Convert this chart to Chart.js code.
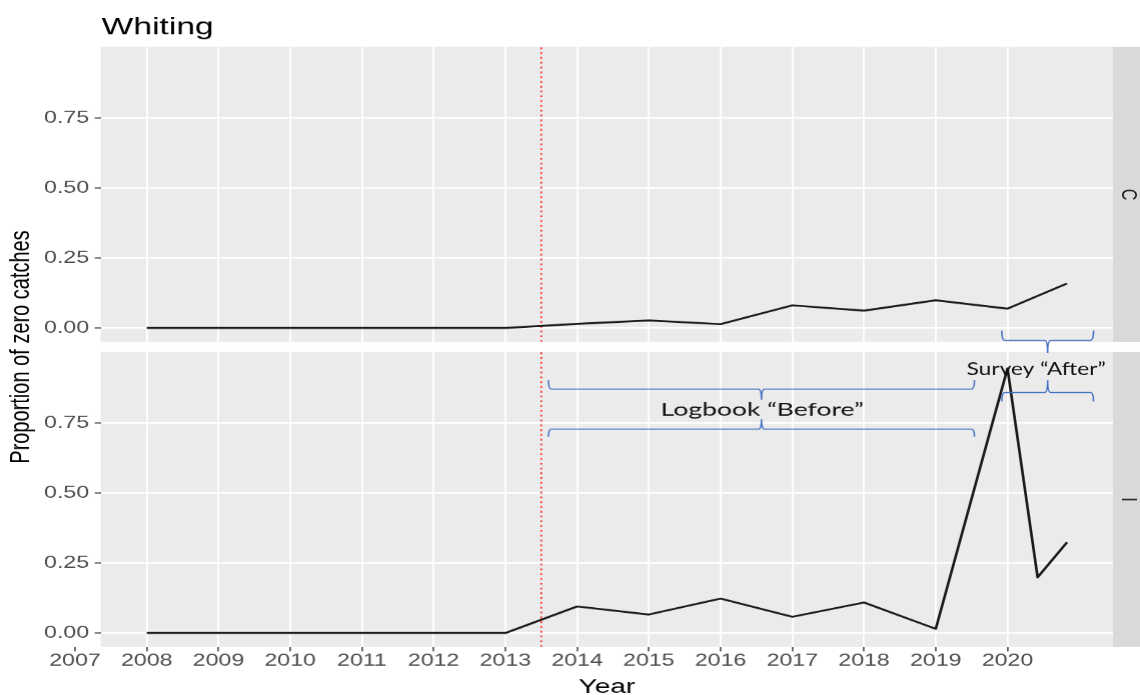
<!DOCTYPE html>
<html>
<head>
<meta charset="utf-8">
<script src="https://cdn.jsdelivr.net/npm/chart.js@4/dist/chart.umd.min.js"></script>
<style>
html,body{margin:0;padding:0;background:#ffffff;overflow:hidden;}
canvas{display:block;}
</style>
</head>
<body>
<canvas id="c" width="814" height="695" style="width:1140px;height:695px"></canvas>
<script>
// ---------------- data ----------------
const years   = [2008, 2009, 2010, 2011, 2012, 2013, 2014, 2015, 2016, 2017, 2018, 2019, 2020, 2020.42, 2020.83];
const seriesC = [0, 0, 0, 0, 0, 0, 0.015, 0.027, 0.014, 0.081, 0.062, 0.099, 0.069, null, 0.159];
const seriesI = [0, 0, 0, 0, 0, 0, 0.095, 0.066, 0.123, 0.058, 0.109, 0.015, 0.945, 0.199, 0.324];
const xTickValues = [2007, 2008, 2009, 2010, 2011, 2012, 2013, 2014, 2015, 2016, 2017, 2018, 2019, 2020];
const xTickLabels = ['2007', '2008', '2009', '2010', '2011', '2012', '2013', '2014', '2015', '2016', '2017', '2018', '2019', '2020'];
const yTickValues = [0, 0.25, 0.5, 0.75];
const yTickLabels = ['0.00', '0.25', '0.50', '0.75'];
const yMinorValues = [0.125, 0.375, 0.625, 0.875];
const panelLabels = ['C', 'I'];
const changeYear = 2013.5;
const logbookSpan = [2013.60, 2019.54];
const surveySpan = [2019.92, 2021.20];
const chartTitle = 'Whiting';
const xTitle = 'Year';
const yTitle = 'Proportion of zero catches';
const logbookText = 'Logbook \u201cBefore\u201d';
const surveyText = 'Survey \u201cAfter\u201d';

// ---------------- layout / style ----------------
const SANS = '"Liberation Sans", Arial, sans-serif';
const yLimits = [-0.05, 1.0036];
const xSpan = years[years.length - 1] - years[0];
const xLimits = [years[0] - 0.05 * xSpan, years[years.length - 1] + 0.05 * xSpan];
const yGridValues = [...yTickValues, ...yMinorValues].sort((a, b) => a - b);
const isMajor = v => yTickValues.some(t => Math.abs(t - v) < 1e-9);

function yAxis(weight) {
  return {
    type: 'linear', position: 'left', stack: 'panels', stackWeight: weight,
    min: yLimits[0], max: yLimits[1],
    afterBuildTicks: s => { s.ticks = yGridValues.map(v => ({value: v})); },
    afterFit: s => { s.width = 71.9; },
    border: {display: false},
    grid: {
      color: '#ffffff',
      lineWidth: c => (c.tick && isMajor(c.tick.value)) ? 1.6 : 0.8,
      tickColor: c => (c.tick && isMajor(c.tick.value)) ? '#333333' : 'rgba(0,0,0,0)',
      tickLength: 4.3, tickWidth: 1
    },
    ticks: {
      padding: 4,
      color: '#4D4D4D',
      font: {family: SANS, size: 16.5},
      callback: v => { const k = yTickValues.findIndex(t => Math.abs(t - v) < 1e-9); return k >= 0 ? yTickLabels[k] : ''; }
    }
  };
}

function braceX(ctx, x1, x2, xm, yEnd, yLine, yNub) {
  const r = 2.2;
  ctx.beginPath();
  ctx.moveTo(x1, yEnd);
  ctx.quadraticCurveTo(x1, yLine, x1 + r, yLine);
  ctx.lineTo(xm - r, yLine);
  ctx.quadraticCurveTo(xm, yLine, xm, yNub);
  ctx.quadraticCurveTo(xm, yLine, xm + r, yLine);
  ctx.lineTo(x2 - r, yLine);
  ctx.quadraticCurveTo(x2, yLine, x2, yEnd);
  ctx.stroke();
}

function fittedText(ctx, text, cx, cy, width) {
  const w = ctx.measureText(text).width;
  ctx.save();
  ctx.translate(cx, cy);
  ctx.scale(width / w, 1);
  ctx.fillText(text, 0, 0);
  ctx.restore();
}

const ggDecor = {
  id: 'ggDecor',
  beforeDraw(chart) {
    const {ctx, chartArea: ca, scales} = chart;
    ctx.save();
    ctx.fillStyle = '#ffffff';
    ctx.fillRect(0, 0, chart.width, chart.height);
    ['yTop', 'yBottom'].forEach(id => {
      const s = scales[id];
      ctx.fillStyle = '#EBEBEB';
      ctx.fillRect(ca.left, s.top, ca.right - ca.left, s.bottom - s.top);
      ctx.fillStyle = '#D9D9D9';
      ctx.fillRect(ca.right, s.top, chart.width - ca.right, s.bottom - s.top);
    });
    ctx.restore();
  },
  afterDraw(chart) {
    const {ctx, chartArea: ca, scales} = chart;
    const xs = scales.x, yT = scales.yTop, yB = scales.yBottom;
    const px = v => xs.getPixelForValue(v);
    ctx.save();
    // title
    ctx.fillStyle = '#000000';
    ctx.font = '24px ' + SANS;
    ctx.textAlign = 'left';
    ctx.textBaseline = 'alphabetic';
    ctx.fillText(chartTitle, ca.left + 0.6, 34.5);
    // strip labels
    ctx.font = '16px ' + SANS;
    ctx.fillStyle = '#1A1A1A';
    ctx.textAlign = 'center';
    ctx.textBaseline = 'middle';
    [yT, yB].forEach((s, i) => {
      ctx.save();
      ctx.translate(ca.right + 10.7, (s.top + s.bottom) / 2);
      ctx.rotate(Math.PI / 2);
      ctx.fillText(panelLabels[i], 0, 0);
      ctx.restore();
    });
    // braces
    ctx.strokeStyle = '#4472C4';
    ctx.lineWidth = 1.1;
    const lbMid = (logbookSpan[0] + logbookSpan[1]) / 2;
    const svMid = (surveySpan[0] + surveySpan[1]) / 2;
    braceX(ctx, px(logbookSpan[0]), px(logbookSpan[1]), px(lbMid), yB.getPixelForValue(0.903), yB.getPixelForValue(0.871), yB.getPixelForValue(0.833));
    braceX(ctx, px(logbookSpan[0]), px(logbookSpan[1]), px(lbMid), yB.getPixelForValue(0.701), yB.getPixelForValue(0.728), yB.getPixelForValue(0.764));
    braceX(ctx, px(surveySpan[0]), px(surveySpan[1]), px(svMid), yT.getPixelForValue(-0.009), yT.getPixelForValue(-0.044), yT.getPixelForValue(-0.089));
    braceX(ctx, px(surveySpan[0]), px(surveySpan[1]), px(svMid), yB.getPixelForValue(0.827), yB.getPixelForValue(0.859), yB.getPixelForValue(0.903));
    // annotation texts
    ctx.fillStyle = '#111111';
    ctx.font = '18px Lato, "Open Sans", sans-serif';
    fittedText(ctx, logbookText, px(2016.58), yB.getPixelForValue(0.797), px(2018.0) - px(2015.17));
    fittedText(ctx, surveyText, px(2020.40), yB.getPixelForValue(0.941), px(2021.37) - px(2019.43));
    ctx.restore();
  }
};

const lineStyle = {borderColor: '#1A1A1A', borderWidth: 1.9, pointRadius: 0, tension: 0, spanGaps: true, borderJoinStyle: 'round', fill: false};
const vStyle = {borderColor: '#FF2020', borderWidth: 1.2, borderDash: [1.8, 3], pointRadius: 0, fill: false};

new Chart(document.getElementById('c'), {
  type: 'line',
  data: {
    datasets: [
      Object.assign({label: panelLabels[0], yAxisID: 'yTop', data: years.map((x, i) => ({x, y: seriesC[i]}))}, lineStyle),
      Object.assign({label: panelLabels[1], yAxisID: 'yBottom', data: years.map((x, i) => ({x, y: seriesI[i]}))}, lineStyle),
      Object.assign({label: 'change C', yAxisID: 'yTop', data: [{x: changeYear, y: yLimits[0]}, {x: changeYear, y: yLimits[1]}]}, vStyle),
      Object.assign({label: 'change I', yAxisID: 'yBottom', data: [{x: changeYear, y: yLimits[0]}, {x: changeYear, y: yLimits[1]}]}, vStyle)
    ]
  },
  options: {
    responsive: false,
    devicePixelRatio: 1.4,
    animation: false,
    events: [],
    layout: {padding: {left: 0, right: 19.7, top: 47, bottom: 0}},
    plugins: {legend: {display: false}, tooltip: {enabled: false}, title: {display: false}},
    scales: {
      x: {
        type: 'linear', position: 'bottom', min: xLimits[0], max: xLimits[1],
        afterBuildTicks: s => { s.ticks = xTickValues.map(v => ({value: v})); },
        afterFit: s => { s.height = 48; },
        border: {display: false},
        grid: {color: '#ffffff', lineWidth: 1.3, tickColor: '#333333', tickLength: 4.3, tickWidth: 1},
        ticks: {autoSkip: false, maxRotation: 0, padding: 0, color: '#4D4D4D', font: {family: SANS, size: 16.5},
                callback: (v, i) => xTickLabels[i]},
        title: {display: true, text: xTitle, color: '#000000', font: {family: SANS, size: 20, lineHeight: 0.75}, padding: {top: 0, bottom: 0}}
      },
      yBottom: yAxis(295),
      yGap: {
        type: 'linear', position: 'left', stack: 'panels', stackWeight: 10, min: 0, max: 1,
        afterFit: s => { s.width = 71.9; },
        border: {display: false}, grid: {display: false}, ticks: {display: false},
        title: {display: true, text: yTitle, color: '#000000', font: {family: SANS, size: 20}, padding: {top: 3.5, bottom: 0}}
      },
      yTop: yAxis(295)
    }
  },
  plugins: [ggDecor]
});
</script>
</body>
</html>
